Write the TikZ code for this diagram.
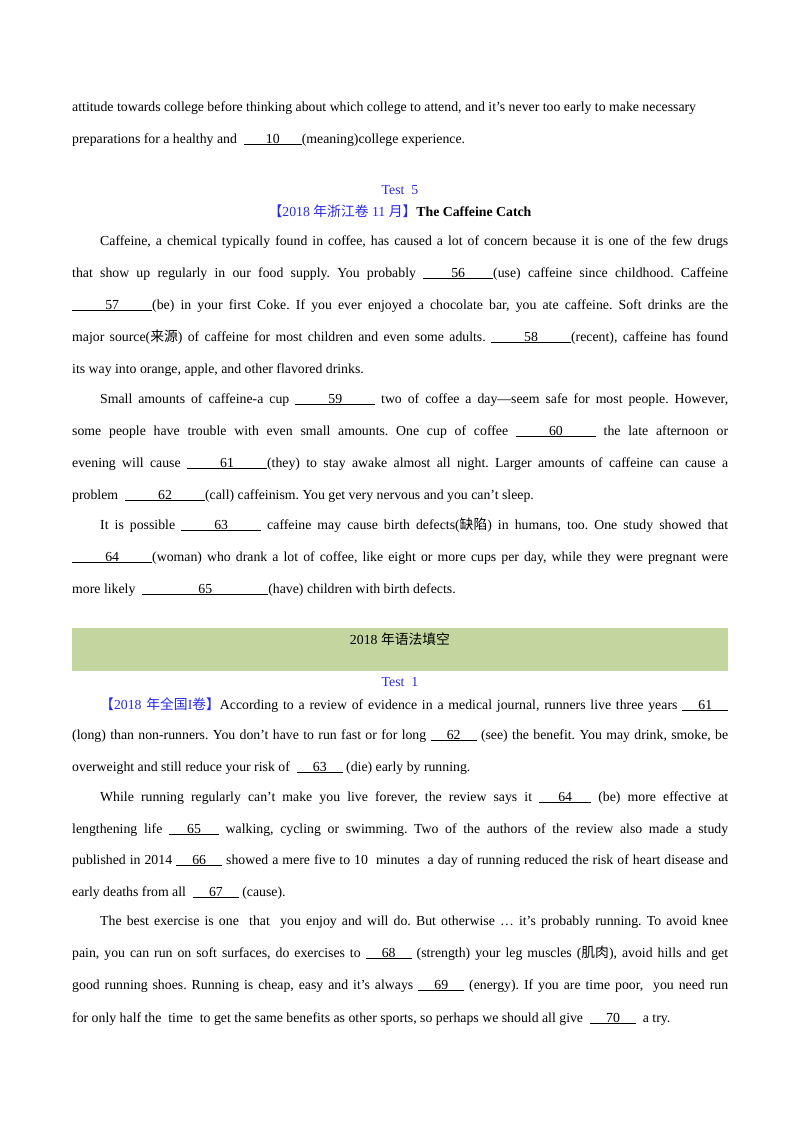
\documentclass[tikz,border=0pt]{standalone}
\usepackage{fontspec}
\setmainfont{Liberation Serif}
\newfontfamily\cjk{Noto Sans CJK SC}
\definecolor{tblue}{RGB}{40,40,240}
\definecolor{band}{RGB}{196,214,160}
\newcommand\jl[1]{\hbox to 656pt{#1}}
\newcommand\bl[2]{\underline{\makebox[#1pt][c]{#2}}}
\frenchspacing
\begin{document}
\begin{tikzpicture}[x=1pt,y=-1pt,
  ln/.style={anchor=base west,inner sep=0pt,font=\fontsize{13.8}{15}\selectfont\frenchspacing},
  ct/.style={anchor=base,inner sep=0pt,font=\fontsize{13.8}{15}\selectfont}]
\useasboundingbox (0,0) rectangle (800,1132);
\node[ln] (a1) at (72,111) {attitude towards college before thinking about which college to attend, and it’s never too early to make necessary};
\node[ln] (a2) at (72,143) {preparations for a healthy and \ \bl{58}{10}(meaning)college experience.};
\node[ct,text=tblue] (t5) at (400,194) {Test\ \ 5};
\node[ct] (h5) at (400,216) {\textcolor{tblue}{{\cjk 【}2018 {\cjk 年浙江卷} 11 {\cjk 月】}}\textbf{The Caffeine Catch}};
\node[ln] (p1) at (100,245) {\hbox to 628pt{Caffeine, a chemical typically found in coffee, has caused a lot of concern because it is one of the few drugs}};
\node[ln] (p2) at (72,277) {\jl{that show up regularly in our food supply. You probably \bl{70}{56}(use) caffeine since childhood. Caffeine}};
\node[ln] (p3) at (72,309) {\jl{\bl{80}{57}(be) in your first Coke. If you ever enjoyed a chocolate bar, you ate caffeine. Soft drinks are the}};
\node[ln] (p4) at (72,341) {\jl{major source({\cjk 来源}) of caffeine for most children and even some adults. \bl{80}{58}(recent), caffeine has found}};
\node[ln] (p5) at (72,373) {its way into orange, apple, and other flavored drinks.};
\node[ln] (p6) at (100,403) {\hbox to 628pt{Small amounts of caffeine-a cup \bl{80}{59} two of coffee a day—seem safe for most people. However,}};
\node[ln] (p7) at (72,435) {\jl{some people have trouble with even small amounts. One cup of coffee \bl{80}{60} the late afternoon or}};
\node[ln] (p8) at (72,467) {\jl{evening will cause \bl{80}{61}(they) to stay awake almost all night. Larger amounts of caffeine can cause a}};
\node[ln] (p9) at (72,499) {problem \ \bl{80}{62}(call) caffeinism. You get very nervous and you can’t sleep.};
\node[ln] (p10) at (100,529) {\hbox to 628pt{It is possible \bl{80}{63} caffeine may cause birth defects({\cjk 缺陷}) in humans, too. One study showed that}};
\node[ln] (p11) at (72,561) {\jl{\bl{80}{64}(woman) who drank a lot of coffee, like eight or more cups per day, while they were pregnant were}};
\node[ln] (p12) at (72,593) {more likely \ \bl{126}{65}(have) children with birth defects.};
\fill[band] (72,628) rectangle (728,671);
\node[ct] (bt) at (400,644) {2018 {\cjk 年语法填空}};
\node[ct,text=tblue] (t1) at (400,686) {Test\ \ 1};
\node[ln] (q1) at (100,709) {\hbox to 628pt{\textcolor{tblue}{{\cjk 【}2018 {\cjk 年全国}I{\cjk 卷】}}According to a review of evidence in a medical journal, runners live three years \bl{46}{61}}};
\node[ln] (q2) at (72,739) {\jl{(long) than non-runners. You don’t have to run fast or for long \bl{46}{62} (see) the benefit. You may drink, smoke, be}};
\node[ln] (q3) at (72,771) {overweight and still reduce your risk of \ \bl{46}{63} (die) early by running.};
\node[ln] (q4) at (100,801) {\hbox to 628pt{While running regularly can’t make you live forever, the review says it \bl{52}{64} (be) more effective at}};
\node[ln] (q5) at (72,833) {\jl{lengthening life \bl{50}{65} walking, cycling or swimming. Two of the authors of the review also made a study}};
\node[ln] (q6) at (72,864) {\jl{published in 2014 \bl{46}{66} showed a mere five to 10 \ minutes \ a day of running reduced the risk of heart disease and}};
\node[ln] (q7) at (72,896) {early deaths from all \ \bl{46}{67} (cause).};
\node[ln] (q8) at (100,925) {\hbox to 628pt{The best exercise is one \ that \ you enjoy and will do. But otherwise … it’s probably running. To avoid knee}};
\node[ln] (q9) at (72,957) {\jl{pain, you can run on soft surfaces, do exercises to \bl{46}{68} (strength) your leg muscles ({\cjk 肌肉}), avoid hills and get}};
\node[ln] (q10) at (72,989) {\jl{good running shoes. Running is cheap, easy and it’s always \bl{46}{69} (energy). If you are time poor, \ you need run}};
\node[ln] (q11) at (72,1022) {for only half the \ time \ to get the same benefits as other sports, so perhaps we should all give \ \bl{46}{70} \ a try.};
\end{tikzpicture}
\end{document}
